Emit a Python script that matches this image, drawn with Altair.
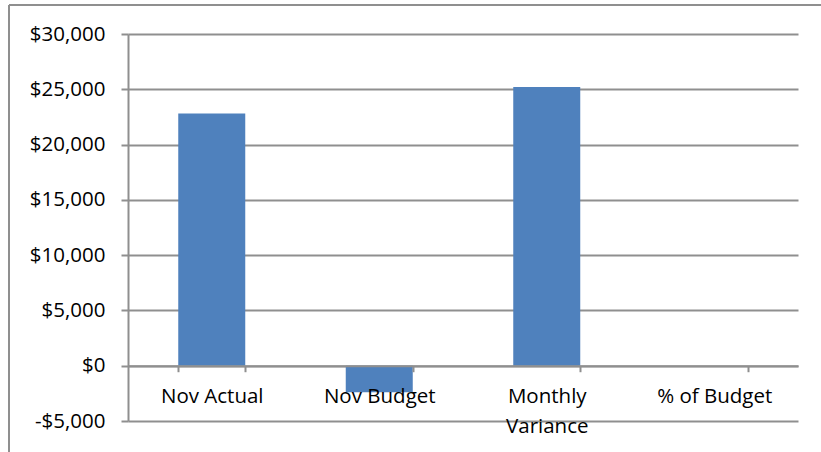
import altair as alt
import pandas as pd

# Monthly budget summary
categories = ["Nov Actual", "Nov Budget", "Monthly Variance", "% of Budget"]
values = [22800, -2400, 25200, -9.5]

y_ticks = [-5000, 0, 5000, 10000, 15000, 20000, 25000, 30000]

W, H = 670, 387
FONT = "Open Sans"
FONT_SIZE = 20.5
LINE = "#8f8f8f"

df = pd.DataFrame({"category": categories, "value": values})

bars = alt.Chart(df).mark_bar(color="#4F81BD").encode(
    x=alt.X(
        "category:N",
        sort=categories,
        title=None,
        scale=alt.Scale(paddingInner=0.6, paddingOuter=0.3),
        axis=alt.Axis(
            orient="bottom",
            offset=-H * 5000 / 35000,
            zindex=1,
            domainColor=LINE,
            domainWidth=2,
            tickColor=LINE,
            tickWidth=2,
            tickSize=6,
            tickBand="extent",
            labelAngle=0,
            labelFont=FONT,
            labelFontSize=FONT_SIZE,
            labelColor="#000000",
            labelPadding=15,
            labelLineHeight=30,
            labelExpr="datum.label == 'Monthly Variance' ? ['Monthly', 'Variance'] : datum.label",
        ),
    ),
    y=alt.Y(
        "value:Q",
        title=None,
        scale=alt.Scale(domain=[-5000, 30000], nice=False),
        axis=alt.Axis(
            values=y_ticks,
            labelExpr="datum.value < 0 ? '-$' + format(-datum.value, ',') : '$' + format(datum.value, ',')",
            labelFont=FONT,
            labelFontSize=FONT_SIZE,
            labelColor="#000000",
            labelPadding=16,
            tickSize=7,
            tickColor=LINE,
            tickWidth=2,
            domainColor=LINE,
            domainWidth=2,
            gridColor=LINE,
            gridWidth=2,
        ),
    ),
)

# outer chart frame (top and left edges)
frame = alt.Chart(alt.Data(values=[{}]))
frame_top = frame.mark_rule(color=LINE, strokeWidth=2).encode(
    x=alt.value(-119), x2=alt.value(W + 23), y=alt.value(-29)
)
frame_left = frame.mark_rule(color=LINE, strokeWidth=2).encode(
    x=alt.value(-119), y=alt.value(-29), y2=alt.value(H + 31)
)

chart = (
    alt.layer(bars, frame_top, frame_left)
    .properties(
        width=W,
        height=H,
        padding={"left": 128, "top": 34, "right": 23, "bottom": 31},
        autosize=alt.AutoSizeParams(type="none"),
        background="white",
    )
    .configure_view(stroke=None)
)

chart.save("out.html", embed_options={"renderer": "svg", "actions": False})
